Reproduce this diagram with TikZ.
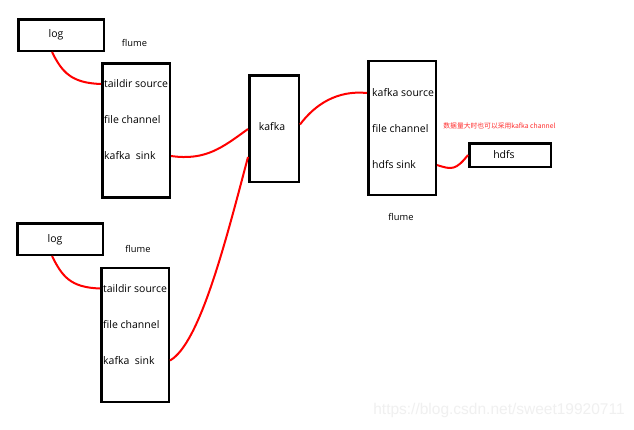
\documentclass[tikz,border=0pt]{standalone}
\usepackage{fontspec}
\setmainfont{Open Sans}
\newfontfamily\cjk{Noto Sans CJK SC}
\newfontfamily\wmfont{Liberation Sans}
\begin{document}
\begin{tikzpicture}[x=1pt,y=-1pt]
    \tikzset{
      item/.style={draw,line width=2.5pt,inner sep=0pt},
      logbox/.style={item,minimum width=85.5pt,minimum height=31.5pt},
      flumebox/.style={item,minimum width=67.5pt,minimum height=134pt},
      kafkabox/.style={item,minimum width=49.5pt,minimum height=106.5pt},
      hdfsbox/.style={item,minimum width=81.5pt,minimum height=23.5pt},
      txt/.style={inner sep=0pt,font=\fontsize{10.5}{12}\selectfont},
      entry/.style={txt,anchor=west},
      tag/.style={inner sep=0pt,font=\fontsize{9.3}{11}\selectfont},
      link/.style={red,line width=2pt}};
    \fill[white] (0,0) rectangle (634,429);
    \useasboundingbox (0,0) rectangle (634,429);
    % watermark
    \node[inner sep=0pt,text=gray!12,font=\wmfont\fontsize{15.5}{17}\selectfont] (wm) at (499,410) {https://blog.csdn.net/sweet19920711};
    % upper agent
    \node[logbox] (log1) at (61,35) {};
    \node[txt] (log1t) at (56,35) {log};
    \node[tag] (fl1) at (134.5,43) {flume};
    \node[flumebox] (f1) at (136,130.5) {};
    \node[entry] (src1) at (104,84) {taildir source};
    \node[entry] (ch1) at (104,119.5) {file channel};
    \node[entry] (snk1) at (104,156) {kafka\ \ sink};
    % lower agent
    \node[logbox] (log2) at (60,239) {};
    \node[txt] (log2t) at (55,240) {log};
    \node[tag] (fl2) at (138,248.5) {flume};
    \node[flumebox] (f2) at (135,335) {};
    \node[entry] (src2) at (103,288.5) {taildir source};
    \node[entry] (ch2) at (103,324.5) {file channel};
    \node[entry] (snk2) at (103,360.5) {kafka\ \ sink};
    % kafka
    \node[kafkabox] (kafka) at (274,128.5) {};
    \node[txt] (kafkat) at (272,127) {kafka};
    % sink agent
    \node[flumebox] (f3) at (402,128) {};
    \node[entry] (src3) at (372,93) {kafka source};
    \node[entry] (ch3) at (372,129) {file channel};
    \node[entry] (snk3) at (372,165) {hdfs sink};
    \node[tag] (fl3) at (401,217) {flume};
    \node[hdfsbox] (hdfs) at (510,155) {};
    \node[txt] (hdfst) at (504,155) {hdfs};
    \node[inner sep=0pt,text={rgb,255:red,255;green,45;blue,45},font=\cjk\fontsize{6.8}{8}\selectfont] (note) at (499.5,126) {数据量大时也可以采用kafka channel};
    % links
    \draw[link] ([xshift=-9pt]log1.south) .. controls +(10,20) and +(-30,-1) .. (f1.west |- src1);
    \draw[link] (f1.east |- snk1) .. controls +(35,5) and +(-25,18) .. ([yshift=-0.5pt]kafka.west);
    \draw[link] ([xshift=-8pt]log2.south) .. controls +(10,20) and +(-30,-1) .. (f2.west |- src2);
    \draw[link] (f2.east |- snk2) .. controls +(30,-17) and +(-22,83) .. ([yshift=-28.5pt]kafka.west);
    \draw[link] ([yshift=4pt]kafka.east) .. controls +(15,-20) and +(-30,-3) .. (f3.west |- src3);
    \draw[link] (f3.east |- snk3) .. controls +(15,5) and +(-12,15) .. (hdfs.west);
  \end{tikzpicture}
\end{document}
